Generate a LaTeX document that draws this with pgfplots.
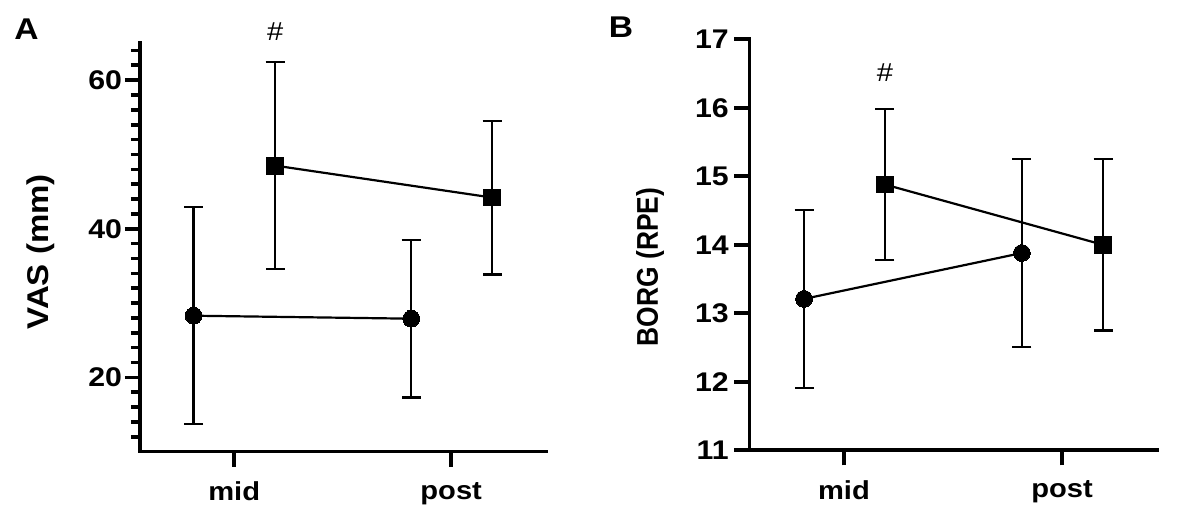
\documentclass[border=0pt]{standalone}
\usepackage{fontspec}
\setmainfont{Liberation Sans}
\newfontfamily\wsans{Liberation Sans}[FakeStretch=1.12]
\usepackage{pgfplots}
\pgfplotsset{compat=1.18}

\pgfplotstableread{
x y e
-0.187 28.3 14.6
0.816 27.9 10.6
}\Acirc
\pgfplotstableread{
x y e
0.189 48.5 13.9
1.189 44.2 10.35
}\Asq
\pgfplotstableread{
x y e
-0.183 13.21 1.30
0.816 13.88 1.37
}\Bcirc
\pgfplotstableread{
x y e
0.188 14.88 1.10
1.188 14.00 1.25
}\Bsq

\pgfplotsset{
  gp/.style={
    scale only axis,
    axis lines=left,
    axis line style={-, line width=1.8pt, line cap=rect},
    tick align=outside,
    major tick length=7.5pt,
    minor tick length=4.5pt,
    tick style={line width=1.8pt, black},
    xmin=-0.434, xmax=1.437,
    xtick={0,1}, xticklabels={mid,post},
    x tick label style={font=\fontsize{13}{15}\wsans\bfseries, inner sep=1pt, yshift=-6.5pt},
    y tick label style={font=\fontsize{13.5}{15}\wsans\bfseries, inner sep=1.3pt},
    /pgf/number format/assume math mode=true,
    clip=false,
  },
  grp/.style={black, line width=1.1pt, mark=#1,
    mark options={solid, fill=black, line width=0pt},
    error bars/.cd, y dir=both, y explicit,
    error bar style={line width=1.1pt, black},
    error mark options={rotate=90, mark size=4.75pt, line width=1.1pt, black},
    /pgfplots/.cd},
}

\begin{document}
\begin{tikzpicture}
\path[use as bounding box] (0,0) rectangle (591.5pt,264.5pt);

\begin{axis}[gp,
  at={(70pt,38.65pt)}, anchor=south west,
  width=203pt, height=204.35pt,
  ymin=10, ymax=65,
  ytick={20,40,60},
  minor ytick={12,14,...,64},
  ylabel={\scalebox{1.1}[1]{\fontsize{15}{17}\selectfont\bfseries VAS (mm)}},
  ylabel style={at={(axis description cs:-0.244,0.489)}, anchor=center},
]
\addplot[grp=*, mark size=4.2pt] table[x=x, y=y, y error=e] {\Acirc};
\addplot[grp=square*, mark size=4.2pt] table[x=x, y=y, y error=e] {\Asq};
\node[font=\fontsize{13}{15}\wsans] at (axis cs:0.189,66.6) {\#};
\end{axis}

\begin{axis}[gp,
  at={(374.65pt,39.35pt)}, anchor=south west,
  width=204pt, height=205.5pt,
  ymin=11, ymax=17,
  ytick={11,12,...,17},
  y tick label style={inner sep=2.6pt},
  ylabel={\scalebox{0.88}[1]{\fontsize{15}{17}\selectfont\bfseries BORG (RPE)}},
  ylabel style={at={(axis description cs:-0.243,0.446)}, anchor=center},
]
\addplot[grp=*, mark size=4.2pt] table[x=x, y=y, y error=e] {\Bcirc};
\addplot[grp=square*, mark size=4.2pt] table[x=x, y=y, y error=e] {\Bsq};
\node[font=\fontsize{13}{15}\wsans] at (axis cs:0.188,16.51) {\#};
\end{axis}

\node[font=\fontsize{15}{17}\wsans\bfseries] at (13.25pt,249.75pt) {A};
\node[font=\fontsize{15}{17}\wsans\bfseries] at (310.5pt,250.75pt) {B};
\end{tikzpicture}
\end{document}
